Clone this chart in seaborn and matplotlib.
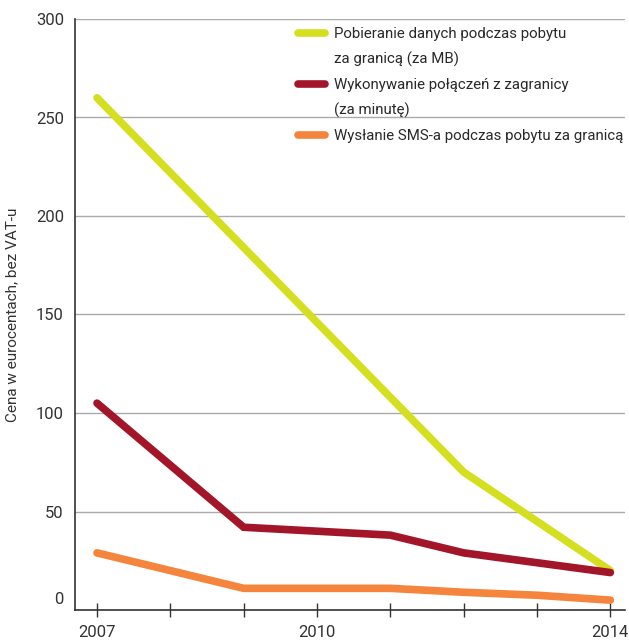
import matplotlib
matplotlib.use("Agg")
import matplotlib.pyplot as plt
import matplotlib.transforms as mtransforms
import seaborn as sns
import pandas as pd
from matplotlib.lines import Line2D

# ---- data ----
data_years = [2007, 2012, 2013, 2014]
data_values = [260, 70, 45, 20]
call_years = [2007, 2009, 2011, 2012, 2013, 2014]
call_values = [105, 42, 38, 29, 24, 19]
sms_years = [2007, 2009, 2011, 2012, 2013, 2014]
sms_values = [29, 11, 11, 9, 7.5, 5]

series_names = [
    "Pobieranie danych podczas pobytu\nza granicą (za MB)",
    "Wykonywanie połączeń z zagranicy\n(za minutę)",
    "Wysłanie SMS-a podczas pobytu za granicą",
]
legend_lines = [
    "Pobieranie danych podczas pobytu",
    "za granicą (za MB)",
    "Wykonywanie połączeń z zagranicy",
    "(za minutę)",
    "Wysłanie SMS-a podczas pobytu za granicą",
]
colors = ["#D4DF1F", "#A3162A", "#F5843C"]
y_ticks = [0, 50, 100, 150, 200, 250, 300]
x_ticks = [2007, 2008, 2009, 2010, 2011, 2012, 2013, 2014]
x_ticklabels = ["2007", "", "", "2010", "", "", "", "2014"]
y_label = "Cena w eurocentach, bez VAT-u"

df = pd.concat([
    pd.DataFrame({"year": data_years, "value": data_values, "series": series_names[0]}),
    pd.DataFrame({"year": call_years, "value": call_values, "series": series_names[1]}),
    pd.DataFrame({"year": sms_years, "value": sms_values, "series": series_names[2]}),
])

sns.set_style("white")
plt.rcParams["font.family"] = ["Roboto", "DejaVu Sans"]

fig = plt.figure(figsize=(6.29, 6.41), dpi=100)
ax = fig.add_axes([75 / 629, 31 / 641, 550 / 629, 591 / 641])

sns.lineplot(data=df, x="year", y="value", hue="series",
             palette=dict(zip(series_names, colors)), hue_order=series_names,
             linewidth=5.5, ax=ax, legend=False)
for ln in ax.lines:
    ln.set_solid_capstyle("round")
    ln.set_solid_joinstyle("miter")

ax.set_xlim(2006.7, 2014.2)
ax.set_ylim(0, 300)
ax.set_yticks(y_ticks)
ax.set_yticklabels([str(v) for v in y_ticks])
ax.set_xticks(x_ticks)
ax.set_xticklabels(x_ticklabels)
ax.yaxis.grid(True, color="#AAAAAA", linewidth=1.0)
ax.set_axisbelow(True)
for s in ["top", "right"]:
    ax.spines[s].set_visible(False)
for s in ["left", "bottom"]:
    ax.spines[s].set_color("#333333")
    ax.spines[s].set_linewidth(1.2)
ax.tick_params(axis="y", length=0, pad=8, labelsize=12, labelcolor="#333333")
ax.tick_params(axis="x", direction="inout", length=10, width=1.0, color="#333333",
               pad=6, labelsize=12, labelcolor="#333333", bottom=True)
ax.set_xlabel("")
ax.set_ylabel(y_label, fontsize=11, color="#333333", labelpad=12)

# raise the "0" label slightly, as in the reference
zero_lab = ax.yaxis.get_major_ticks()[0].label1
zero_lab.set_transform(zero_lab.get_transform() +
                       mtransforms.ScaledTranslation(0, 12 / 100, fig.dpi_scale_trans))

handles = []
for i, lab in enumerate(legend_lines):
    if i == 0:
        handles.append(Line2D([], [], color=colors[0], lw=5.5, solid_capstyle="round"))
    elif i == 2:
        handles.append(Line2D([], [], color=colors[1], lw=5.5, solid_capstyle="round"))
    elif i == 4:
        handles.append(Line2D([], [], color=colors[2], lw=5.5, solid_capstyle="round"))
    else:
        handles.append(Line2D([], [], color="none", lw=0))
leg = fig.legend(handles, legend_lines, loc="upper left",
                 bbox_to_anchor=(298 / 629, 1 - 27 / 641), frameon=False,
                 fontsize=10.8, handlelength=1.8, handletextpad=0.6,
                 labelspacing=0.72, borderpad=0, borderaxespad=0)
for t in leg.get_texts():
    t.set_color("#2A2A2A")

fig.savefig("out.png", dpi=100)
